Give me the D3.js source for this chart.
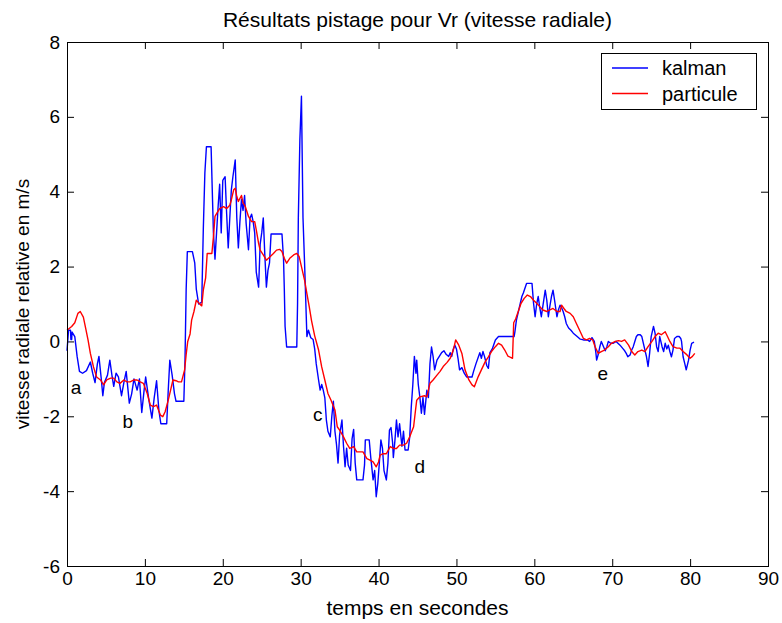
<!DOCTYPE html>
<html>
<head>
<meta charset="utf-8">
<script src="https://cdn.jsdelivr.net/npm/d3@7"></script>
<style>
  body { margin: 0; background: #fff; }
  svg { display: block; }
  text { font-family: "Liberation Sans", Arial, Helvetica, sans-serif; fill: #000; }
</style>
</head>
<body>
<svg id="chart" width="782" height="623"></svg>
<script>
// Axis ticks
const xTicks = [0, 10, 20, 30, 40, 50, 60, 70, 80, 90];
const yTicks = [-6, -4, -2, 0, 2, 4, 6, 8];

// Kalman filter estimate of Vr: time (s) and radial speed (m/s)
const kalmanT = [
  0, 0.2, 0.45, 0.5, 0.6, 0.65, 1.0, 1.3, 1.6, 2.0, 2.5, 3.0, 3.3, 3.6, 3.9, 4.1, 4.4, 4.6, 4.8, 5.2,
  5.5, 5.8, 6.0, 6.3, 6.6, 7.0, 7.3, 7.6, 8.0, 8.3, 8.6, 9.0, 9.3, 9.6, 9.9, 10.1, 10.5, 10.9, 11.2, 11.5,
  11.8, 12.05, 12.8, 13.0, 13.2, 13.5, 13.8, 14.0, 15.0, 15.15, 15.3, 15.45, 16.1, 16.4, 16.6, 16.9, 17.3, 17.5, 17.7, 17.9,
  18.5, 18.8, 19.0, 19.2, 19.4, 19.6, 19.8, 20.0, 20.3, 20.5, 20.7, 20.9, 21.1, 21.3, 21.6, 21.8, 22.0, 22.2, 22.4, 22.6,
  22.8, 23.0, 23.3, 23.5, 23.7, 23.9, 24.1, 24.3, 24.6, 24.8, 25.0, 25.2, 25.4, 25.6, 25.8, 26.0, 26.2, 27.6, 27.8, 27.9,
  28.0, 28.2, 29.5, 29.6, 29.7, 29.9, 30.1, 30.3, 30.5, 30.8, 31.0, 31.3, 31.6, 31.8, 32.0, 32.3, 32.5, 32.7, 32.9, 33.1,
  33.3, 33.5, 33.8, 34.0, 34.2, 34.4, 34.6, 34.8, 35.0, 35.3, 35.5, 35.7, 35.9, 36.1, 36.4, 36.6, 36.8, 37.0, 37.2, 38.0,
  38.2, 38.3, 38.8, 39.0, 39.1, 39.3, 39.5, 39.7, 39.9, 40.1, 40.3, 40.5, 40.7, 41.0, 41.2, 41.4, 41.6, 41.8, 41.9, 42.1,
  42.3, 42.5, 42.7, 43.0, 43.2, 43.4, 43.8, 44.0, 44.2, 44.4, 44.6, 44.8, 44.9, 45.1, 45.3, 45.5, 45.7, 45.9, 46.2, 46.4,
  46.6, 46.8, 47.0, 47.2, 47.5, 47.8, 48.1, 48.4, 48.7, 49.0, 49.2, 49.4, 49.6, 49.8, 50.0, 50.2, 50.4, 50.7, 51.0, 51.3,
  52.0, 52.2, 52.5, 53.0, 53.2, 53.4, 53.6, 53.9, 54.1, 54.3, 54.6, 55.0, 55.4, 57.4, 57.5, 57.7, 57.9, 58.2, 58.4, 58.6,
  59.0, 59.7, 59.9, 60.1, 60.3, 60.5, 60.7, 60.9, 61.1, 61.4, 61.6, 61.8, 62.0, 62.2, 62.4, 62.6, 62.9, 63.1, 63.3, 63.5,
  63.7, 63.9, 64.1, 64.4, 64.7, 65.0, 65.5, 65.9, 66.3, 66.8, 67.1, 67.4, 67.7, 67.9, 68.0, 68.2, 68.4, 68.6, 68.9, 69.1,
  69.3, 69.5, 69.8, 70.1, 70.5, 71.0, 71.4, 71.6, 71.8, 72.0, 72.3, 72.5, 72.7, 72.9, 73.1, 73.3, 73.6, 73.8, 74.0, 74.2,
  74.4, 74.6, 74.8, 75.0, 75.3, 75.5, 75.7, 75.9, 76.1, 76.4, 76.6, 76.8, 77.0, 77.2, 77.4, 77.6, 77.8, 78.0, 78.3, 78.6,
  78.8, 78.9, 79.1, 79.3, 79.5, 79.8, 80.0, 80.2, 80.5
];
const kalmanV = [
  -0.25, 0.3, 0.3, 0.05, 0.05, 0.25, 0.13, -0.4, -0.8, -0.85, -0.78, -0.55, -0.85, -1.1, -0.6, -0.4, -1.0, -1.45, -1.1, -0.9,
  -0.5, -0.95, -1.2, -0.85, -0.95, -1.45, -1.1, -0.8, -1.65, -1.4, -1.0, -1.3, -1.0, -1.9, -1.3, -0.95, -1.55, -2.05, -1.5, -1.05,
  -1.85, -2.2, -2.2, -1.3, -0.5, -0.9, -1.4, -1.6, -1.6, -0.5, 1.4, 2.4, 2.4, 2.1, 1.4, 1.0, 1.05, 3.0, 4.5, 5.2,
  5.2, 2.9, 2.2, 2.9, 3.6, 4.2, 2.9, 4.3, 4.4, 3.4, 2.5, 3.3, 4.05, 4.4, 4.85, 3.3, 2.5, 3.2, 3.8, 3.5,
  3.9, 3.15, 2.45, 3.3, 3.4, 3.2, 2.9, 1.85, 1.45, 2.6, 2.9, 3.3, 2.3, 1.45, 1.9, 2.1, 2.87, 2.87, 2.2, 1.4,
  0.4, -0.15, -0.15, 1.0, 3.3, 5.4, 6.55, 3.3, 2.1, 0.13, 0.3, 0.1, 0.05, -0.2, -0.6, -1.03, -1.3, -1.15, -1.3, -1.5,
  -2.1, -2.4, -2.55, -2.0, -1.6, -2.4, -2.75, -3.25, -2.5, -2.1, -2.8, -3.35, -2.85, -3.3, -3.45, -2.6, -2.35, -3.25, -3.7, -3.7,
  -3.3, -2.63, -2.63, -3.1, -3.3, -3.7, -3.45, -4.15, -3.8, -3.25, -2.63, -2.85, -3.45, -3.7, -3.25, -2.37, -2.3, -2.7, -3.1, -2.65,
  -2.1, -2.55, -2.2, -2.8, -2.4, -2.9, -2.9, -2.55, -1.75, -1.15, -0.4, -0.85, -0.5, -1.15, -1.48, -1.92, -1.5, -1.95, -1.3, -1.5,
  -0.6, -0.15, -0.4, -0.76, -0.5, -0.4, -0.3, -0.25, -0.35, -0.4, -0.3, -0.4, -0.2, -0.1, -0.2, -0.45, -0.76, -0.7, -0.85, -0.95,
  -0.95, -0.8, -0.6, -0.3, -0.45, -0.27, -0.4, -0.65, -0.72, -0.3, -0.2, 0.04, 0.13, 0.13, 0.25, 0.57, 0.75, 1.02, 1.2, 1.3,
  1.55, 1.55, 1.02, 0.66, 1.0, 1.2, 0.9, 0.66, 0.95, 1.37, 1.1, 0.66, 0.95, 1.2, 1.37, 1.1, 0.66, 0.85, 0.97, 0.9,
  0.8, 0.66, 0.48, 0.36, 0.3, 0.22, 0.13, 0.06, 0.04, 0.04, 0.0, 0.1, 0.0, -0.3, -0.5, -0.35, -0.15, 0.0, -0.15, -0.25,
  -0.15, 0.0, -0.05, -0.05, 0.0, -0.1, -0.2, -0.25, -0.32, -0.41, -0.36, -0.23, -0.14, 0.0, 0.13, 0.18, 0.18, 0.13, -0.05, -0.23,
  -0.41, -0.67, -0.32, 0.13, 0.4, 0.22, -0.14, -0.27, 0.13, -0.14, -0.27, -0.05, -0.2, -0.1, -0.27, -0.41, -0.23, 0.08, 0.13, 0.13,
  0.08, 0.0, -0.41, -0.58, -0.76, -0.5, -0.23, -0.05, -0.02
];

// Particle filter estimate of Vr: time (s) and radial speed (m/s)
const particuleT = [
  0, 0.6, 1.0, 1.4, 1.7, 2.1, 2.4, 2.7, 3.0, 3.4, 3.8, 4.3, 4.7, 5.1, 5.6, 6.0, 6.4, 6.8, 7.3, 7.7,
  8.1, 8.6, 9.0, 9.4, 9.8, 10.3, 10.7, 11.1, 11.5, 12.0, 12.3, 12.6, 13.0, 13.3, 13.6, 14.0, 14.3, 14.7, 15.1, 15.3,
  15.5, 15.8, 16.0, 16.3, 16.6, 17.0, 17.3, 17.5, 17.8, 18.0, 18.6, 18.8, 19.0, 19.3, 19.6, 20.1, 20.5, 20.9, 21.1, 21.4,
  21.6, 21.8, 22.0, 22.4, 22.6, 22.9, 23.3, 23.7, 24.1, 24.3, 24.6, 24.8, 25.2, 25.6, 26.1, 26.5, 26.9, 27.3, 27.6, 27.9,
  28.2, 28.6, 29.1, 29.5, 29.8, 30.1, 30.5, 30.8, 31.1, 31.4, 31.8, 32.3, 32.7, 33.1, 33.5, 33.9, 34.4, 34.7, 35.0, 35.5,
  35.9, 36.3, 36.8, 37.2, 37.6, 38.0, 38.5, 38.9, 39.3, 39.7, 40.0, 40.2, 40.6, 41.0, 41.5, 41.9, 42.3, 42.7, 43.2, 43.6,
  44.0, 44.5, 44.7, 44.9, 45.3, 45.9, 46.2, 46.6, 47.0, 47.5, 47.9, 48.3, 48.8, 49.2, 49.6, 49.9, 50.3, 50.7, 51.1, 51.6,
  52.0, 52.3, 52.8, 53.2, 53.7, 54.1, 54.5, 55.0, 55.4, 55.8, 56.2, 56.6, 57.2, 57.35, 57.6, 58.0, 58.3, 58.7, 59.1, 59.5,
  59.9, 60.3, 60.7, 61.1, 61.6, 62.0, 62.4, 62.9, 63.3, 63.5, 63.8, 64.1, 64.6, 65.0, 65.4, 65.9, 66.3, 66.7, 67.1, 67.5,
  67.8, 68.2, 68.6, 69.0, 69.5, 69.9, 70.4, 70.8, 71.2, 71.6, 72.1, 72.5, 72.9, 73.3, 73.8, 74.2, 74.6, 75.1, 75.5, 75.9,
  76.3, 76.8, 77.1, 77.4, 77.8, 78.3, 78.7, 79.1, 79.6, 80.0, 80.3, 80.6
];
const particuleV = [
  0.3, 0.4, 0.5, 0.75, 0.8, 0.65, 0.35, 0.04, -0.32, -0.68, -0.95, -1.03, -1.16, -1.03, -0.98, -0.98, -1.08, -1.12, -1.03, -1.08,
  -1.08, -1.03, -1.03, -1.08, -1.12, -1.39, -1.7, -1.74, -1.7, -1.97, -2.01, -1.88, -1.57, -1.3, -1.03, -1.05, -1.08, -1.08, -0.76, -0.35,
  0.0, 0.2, 0.57, 0.8, 1.1, 1.01, 0.95, 1.37, 1.7, 2.35, 2.35, 2.79, 3.34, 3.45, 3.55, 3.6, 3.55, 3.64, 3.78, 4.05,
  4.09, 3.87, 3.74, 3.9, 3.7, 3.6, 3.34, 3.2, 3.2, 2.98, 2.62, 2.44, 2.31, 2.17, 2.27, 2.35, 2.44, 2.46, 2.4, 2.22,
  2.09, 2.22, 2.31, 2.35, 2.27, 2.0, 1.64, 1.28, 0.93, 0.55, 0.15, -0.23, -0.68, -1.03, -1.39, -1.57, -1.83, -2.28, -2.37, -2.55,
  -2.72, -2.86, -2.81, -2.95, -2.95, -2.95, -3.13, -3.17, -3.22, -3.35, -3.22, -3.04, -3.0, -3.0, -2.81, -2.86, -2.86, -2.77, -2.77, -2.72,
  -2.55, -2.28, -1.92, -1.57, -1.48, -1.45, -1.48, -1.12, -1.03, -0.9, -0.8, -0.67, -0.56, -0.45, -0.23, 0.04, -0.1, -0.32, -0.76, -1.03,
  -1.16, -1.21, -0.94, -0.76, -0.54, -0.41, -0.27, -0.14, -0.05, -0.1, -0.23, -0.39, -0.45, 0.5, 0.6, 0.84, 1.02, 1.15, 1.24, 1.2,
  1.1, 1.02, 0.93, 0.84, 0.8, 0.84, 0.88, 0.8, 0.8, 0.97, 0.88, 0.8, 0.75, 0.66, 0.48, 0.26, 0.08, 0.04, 0.08, 0.04,
  -0.14, -0.32, -0.27, -0.23, -0.14, -0.05, 0.0, 0.02, 0.0, 0.04, -0.1, -0.27, -0.36, -0.27, -0.23, -0.27, -0.14, 0.0, 0.13, 0.22,
  0.18, 0.26, 0.13, 0.0, -0.14, -0.18, -0.18, -0.27, -0.36, -0.45, -0.4, -0.32
];

// Letter markers placed along the curves
const markLabels = ["a", "b", "c", "d", "e"];
const markT = [1.15, 7.8, 32.2, 45.3, 68.8];
const markV = [-1.22, -2.13, -1.94, -3.33, -0.87];

// Legend entries
const legendNames = ["kalman", "particule"];
const legendColors = ["#0000ff", "#ff0000"];

const plotLeft = 67, plotRight = 768, plotTop = 42, plotBottom = 566;
const svg = d3.select("#chart");

const x = d3.scaleLinear().domain([0, 90]).range([plotLeft, plotRight]);
const y = d3.scaleLinear().domain([-6, 8]).range([plotBottom, plotTop]);

const fmt = d => String(d);
const tickLen = 7;

// Axes with inward ticks on all four sides
const axB = svg.append("g").attr("transform", `translate(0,${plotBottom})`)
  .call(d3.axisBottom(x).tickValues(xTicks).tickSize(-tickLen).tickPadding(6).tickFormat(fmt));
const axT = svg.append("g").attr("transform", `translate(0,${plotTop})`)
  .call(d3.axisTop(x).tickValues(xTicks).tickSize(-tickLen).tickFormat(""));
const axL = svg.append("g").attr("transform", `translate(${plotLeft},0)`)
  .call(d3.axisLeft(y).tickValues(yTicks).tickSize(-tickLen).tickPadding(7).tickFormat(fmt));
const axR = svg.append("g").attr("transform", `translate(${plotRight},0)`)
  .call(d3.axisRight(y).tickValues(yTicks).tickSize(-tickLen).tickFormat(""));

[axB, axT, axL, axR].forEach(g => {
  g.select(".domain").remove();
  g.selectAll("line").attr("stroke", "#000").attr("stroke-width", 1);
  g.selectAll("text").attr("font-size", 19).attr("font-family", null).attr("fill", "#000");
});

// Series
const lineOf = (T, V) => d3.line()
  .x(i => x(T[i]))
  .y(i => y(V[i]))(d3.range(Math.min(T.length, V.length)));

svg.append("path")
  .attr("d", lineOf(kalmanT, kalmanV))
  .attr("fill", "none").attr("stroke", legendColors[0]).attr("stroke-width", 1.4)
  .attr("stroke-linejoin", "round");

svg.append("path")
  .attr("d", lineOf(particuleT, particuleV))
  .attr("fill", "none").attr("stroke", legendColors[1]).attr("stroke-width", 1.4)
  .attr("stroke-linejoin", "round");

// Frame
svg.append("rect")
  .attr("x", plotLeft + 0.5).attr("y", plotTop + 0.5)
  .attr("width", plotRight - plotLeft).attr("height", plotBottom - plotTop)
  .attr("fill", "none").attr("stroke", "#000").attr("stroke-width", 1);

// Letter markers
svg.append("g").selectAll("text").data(markLabels).join("text")
  .attr("x", (d, i) => x(markT[i]))
  .attr("y", (d, i) => y(markV[i]))
  .attr("text-anchor", "middle")
  .attr("dominant-baseline", "central")
  .attr("font-size", 19)
  .text(d => d);

// Legend
const lg = svg.append("g");
lg.append("rect")
  .attr("x", 601.5).attr("y", 53.5).attr("width", 155).attr("height", 56)
  .attr("fill", "#fff").attr("stroke", "#000").attr("stroke-width", 1);
legendNames.forEach((name, i) => {
  const cy = 68 + i * 25.5;
  lg.append("line")
    .attr("x1", 612).attr("x2", 648).attr("y1", cy).attr("y2", cy)
    .attr("stroke", legendColors[i]).attr("stroke-width", 1.4);
  lg.append("text")
    .attr("x", 662).attr("y", cy)
    .attr("dominant-baseline", "central")
    .attr("font-size", 20)
    .text(name);
});

// Titles
svg.append("text")
  .attr("x", (plotLeft + plotRight) / 2).attr("y", 19)
  .attr("text-anchor", "middle").attr("dominant-baseline", "central")
  .attr("font-size", 21)
  .text("Résultats pistage pour Vr (vitesse radiale)");

svg.append("text")
  .attr("x", (plotLeft + plotRight) / 2).attr("y", 607)
  .attr("text-anchor", "middle").attr("dominant-baseline", "central")
  .attr("font-size", 21)
  .text("temps en secondes");

svg.append("text")
  .attr("transform", `translate(22,${(plotTop + plotBottom) / 2}) rotate(-90)`)
  .attr("text-anchor", "middle").attr("dominant-baseline", "central")
  .attr("font-size", 19)
  .text("vitesse radiale relative en m/s");
</script>
</body>
</html>
